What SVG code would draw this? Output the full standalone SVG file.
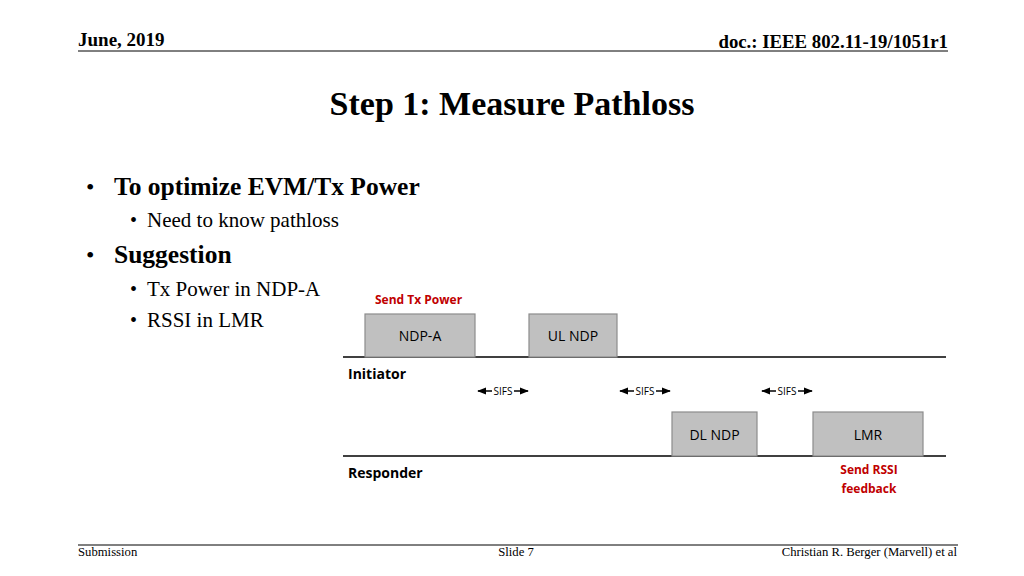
<svg xmlns="http://www.w3.org/2000/svg" width="1024" height="576" viewBox="0 0 1024 576">
<defs>
<style>
.serif{font-family:"Liberation Serif","Times New Roman",serif;fill:#000}
.sans{font-family:"Open Sans","Liberation Sans",Arial,sans-serif;fill:#000}
.box{fill:#c0c0c0;stroke:#8c8c8c;stroke-width:1.2}
.red{fill:#c00000;font-weight:bold;font-size:12px}
.lbl{font-size:14px}
.sifs{font-size:10px}
</style>
<marker id="ah" viewBox="0 0 10 10" refX="9" refY="5" markerWidth="6" markerHeight="6" orient="auto-start-reverse">
<path d="M0,1 L10,5 L0,9 z" fill="#000"/>
</marker>
</defs>
<rect width="1024" height="576" fill="#fff"/>
<g id="header">
<text class="serif" x="78" y="46" font-size="19" font-weight="bold">June, 2019</text>
<text class="serif" x="948" y="48" font-size="18.8" font-weight="bold" text-anchor="end">doc.: IEEE 802.11-19/1051r1</text>
<line x1="78" y1="51" x2="948" y2="51" stroke="#000" stroke-width="1"/>
</g>
<text class="serif" x="512" y="115" font-size="34" font-weight="bold" text-anchor="middle">Step 1: Measure Pathloss</text>
<g id="bullets" class="serif">
<text x="86" y="195" font-size="24">•</text>
<text x="114" y="195" font-size="25.5" font-weight="bold">To optimize EVM/Tx Power</text>
<text x="130" y="227" font-size="20">•</text>
<text x="147" y="227" font-size="21">Need to know pathloss</text>
<text x="86" y="263" font-size="24">•</text>
<text x="114" y="263" font-size="25.5" font-weight="bold">Suggestion</text>
<text x="130" y="296" font-size="20">•</text>
<text x="147" y="296" font-size="21">Tx Power in NDP-A</text>
<text x="130" y="327" font-size="20">•</text>
<text x="147" y="327" font-size="21">RSSI in LMR</text>
</g>
<g id="connectors" stroke="#000">
<line x1="343" y1="357" x2="946" y2="357" stroke-width="1.5"/>
<line x1="343" y1="456" x2="946" y2="456" stroke-width="1.5"/>
<line x1="478" y1="391" x2="492" y2="391" stroke-width="1.5" marker-start="url(#ah)"/>
<line x1="514" y1="391" x2="528" y2="391" stroke-width="1.5" marker-end="url(#ah)"/>
<line x1="620" y1="391" x2="634" y2="391" stroke-width="1.5" marker-start="url(#ah)"/>
<line x1="656" y1="391" x2="670" y2="391" stroke-width="1.5" marker-end="url(#ah)"/>
<line x1="762" y1="391" x2="776" y2="391" stroke-width="1.5" marker-start="url(#ah)"/>
<line x1="798" y1="391" x2="812" y2="391" stroke-width="1.5" marker-end="url(#ah)"/>
</g>
<g id="sifs-labels" class="sans sifs" text-anchor="middle">
<text x="503" y="395">SIFS</text>
<text x="645" y="395">SIFS</text>
<text x="787" y="395">SIFS</text>
</g>
<g id="ndp-a">
<rect class="box" x="365" y="314" width="110" height="43"/>
<text class="sans lbl" x="420" y="341" text-anchor="middle">NDP-A</text>
</g>
<g id="ul-ndp">
<rect class="box" x="529" y="314" width="88" height="43"/>
<text class="sans lbl" x="573" y="341" text-anchor="middle">UL NDP</text>
</g>
<g id="dl-ndp">
<rect class="box" x="672" y="412" width="85" height="44"/>
<text class="sans lbl" x="714.5" y="440" text-anchor="middle">DL NDP</text>
</g>
<g id="lmr">
<rect class="box" x="813" y="412" width="110" height="44"/>
<text class="sans lbl" x="868" y="440" text-anchor="middle">LMR</text>
</g>
<g id="annotations" class="sans">
<text class="red" x="375" y="304">Send Tx Power</text>
<text class="red" x="869" y="474" text-anchor="middle">Send RSSI</text>
<text class="red" x="869" y="493" text-anchor="middle">feedback</text>
<text x="348" y="379" font-size="14" font-weight="bold">Initiator</text>
<text x="348" y="478" font-size="14" font-weight="bold">Responder</text>
</g>
<g id="footer" class="serif" font-size="12.7">
<line x1="78" y1="545" x2="958" y2="545" stroke="#000" stroke-width="1"/>
<text x="78" y="556">Submission</text>
<text x="516" y="556" text-anchor="middle">Slide 7</text>
<text x="957" y="556" text-anchor="end">Christian R. Berger (Marvell) et al</text>
</g>
</svg>
